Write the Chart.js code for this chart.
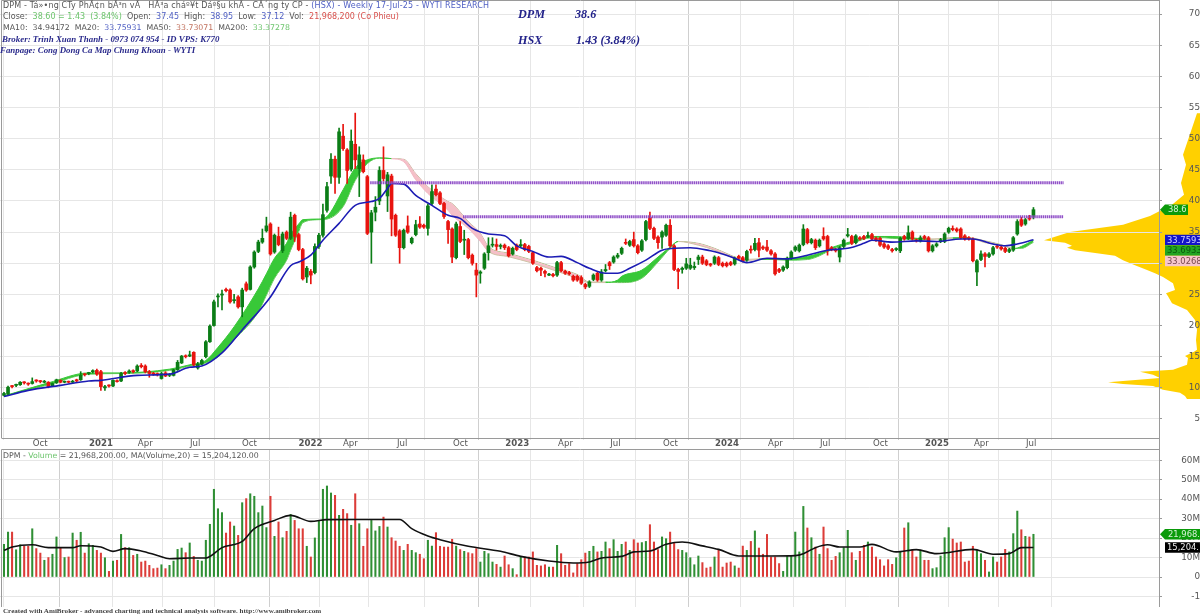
<!DOCTYPE html>
<html>
<head>
<meta charset="utf-8">
<title>DPM Weekly</title>
<script src="https://cdn.jsdelivr.net/npm/chart.js@4"></script>
<style>
    html, body { margin: 0; padding: 0; background: #fff; overflow: hidden; }
    #page { position: relative; width: 1200px; height: 616px; overflow: hidden; }
    canvas { position: absolute; }
    #profileChart { left: 1040px; top: 0; z-index: 0; }
    #priceChart { left: 0; top: 0; z-index: 1; }
    #volumeChart { left: 0; top: 449px; z-index: 1; }
    .txt { position: absolute; z-index: 2; white-space: pre; font: 8px/11px "DejaVu Sans", sans-serif; color: #555; }
    .note { font: italic bold 8.9px/11px "Liberation Serif", serif; color: #2a2a8c; }
    .big { font: italic bold 12.2px/14px "Liberation Serif", serif; color: #23238a; }
    .blue { color: #5060c4; }
    .green { color: #6cc46c; }
    .red { color: #d8504c; }
    .brown { color: #c0705c; }
</style>
</head>
<body>
<div id="page">
    <canvas id="profileChart" width="160" height="438"></canvas>
    <canvas id="priceChart" width="1200" height="449"></canvas>
    <canvas id="volumeChart" width="1200" height="158"></canvas>

    <div class="txt" style="left:3px;top:0px;letter-spacing:0.15px">DPM - Tá»•ng CTy PhÃ¢n bÃ³n vÃ   HÃ³a cháº¥t Dáº§u khÃ­ - CÃ´ng ty CP - <span class="blue">(HSX) - Weekly 17-Jul-25 - WYTI RESEARCH</span></div>
    <div class="txt" style="left:3px;top:11px">Close:  <span class="green">38.60 = 1.43  (3.84%)</span>  Open:  <span class="blue">37.45</span>  High:  <span class="blue">38.95</span>  Low:  <span class="blue">37.12</span>  Vol:  <span class="red">21,968,200 (Co Phieu)</span></div>
    <div class="txt" style="left:3px;top:22px;font-size:7.8px">MA10:  34.94172  MA20:  <span class="blue">33.75931</span>  MA50:  <span class="brown">33.73071</span>  MA200:  <span class="green">33.37278</span></div>
    <div class="txt note" style="left:2px;top:34px">Broker: Trinh Xuan Thanh - 0973 074 954 - ID VPS: K770</div>
    <div class="txt note" style="left:0px;top:45px">Fanpage: Cong Dong Ca Map Chung Khoan - WYTI</div>
    <div class="txt big" style="left:518px;top:7px">DPM</div>
    <div class="txt big" style="left:575px;top:7px">38.6</div>
    <div class="txt big" style="left:518px;top:33px">HSX</div>
    <div class="txt big" style="left:576px;top:33px">1.43 (3.84%)</div>
    <div class="txt" style="left:3px;top:450px;font-size:7.8px">DPM - <span class="green">Volume</span> = 21,968,200.00, MA(Volume,20) = 15,204,120.00</div>
    <div class="txt" style="left:3px;top:607px;font:bold 7.1px/9px 'Liberation Serif',serif;color:#444">Created with AmiBroker - advanced charting and technical analysis software. http://www.amibroker.com</div>
</div>

<script>
// weekly candles
const opens = [
    8.8, 9.0, 10.3, 10.4, 10.5, 10.9, 10.7, 10.7, 11.2, 11.1,
    10.9, 10.9, 10.3, 10.8, 11.2, 10.9, 11.0, 10.9, 11.3, 11.3,
    12.2, 12.3, 12.6, 12.8, 12.6, 10.0, 10.4, 10.3, 11.1, 11.1,
    12.4, 12.5, 12.7, 12.7, 13.6, 13.5, 12.6, 12.3, 12.3, 11.5,
    12.4, 12.0, 12.0, 12.9, 14.0, 15.1, 15.1, 15.7, 13.2, 13.8,
    15.0, 17.4, 20.0, 24.6, 24.9, 25.8, 25.7, 24.0, 24.6, 23.0,
    26.7, 25.8, 29.4, 31.9, 33.4, 35.2, 36.3, 31.8, 34.3, 32.0,
    35.0, 34.0, 37.7, 34.6, 32.2, 27.8, 28.7, 28.5, 32.7, 34.5,
    38.5, 44.0, 46.7, 43.8, 50.4, 48.2, 45.1, 49.1, 45.2, 46.6,
    43.9, 35.0, 38.2, 40.0, 44.9, 40.8, 44.0, 37.7, 35.2, 32.5,
    36.0, 33.3, 34.6, 36.3, 36.1, 35.6, 39.6, 41.9, 41.3, 39.6,
    36.7, 35.5, 30.9, 35.9, 33.7, 33.8, 31.3, 28.9, 28.4, 29.2,
    31.7, 32.9, 33.0, 32.7, 32.9, 32.5, 31.5, 32.9, 32.8, 33.0,
    32.7, 31.7, 29.3, 29.2, 28.7, 28.1, 28.2, 28.1, 30.1, 28.7,
    28.5, 27.9, 27.9, 27.7, 26.6, 26.3, 27.4, 28.4, 27.3, 28.8,
    30.1, 30.2, 31.0, 31.6, 33.3, 32.9, 33.8, 32.8, 32.1, 33.8,
    37.4, 35.6, 34.2, 34.2, 34.5, 36.1, 32.8, 29.0, 29.0, 29.2,
    29.2, 29.3, 30.6, 31.0, 30.4, 29.9, 30.0, 30.9, 30.0, 30.0,
    30.1, 29.9, 31.1, 30.9, 30.5, 32.2, 32.2, 33.3, 32.6, 32.6,
    32.0, 31.5, 29.0, 28.9, 29.3, 30.8, 32.1, 32.0, 33.0, 35.4,
    33.3, 33.7, 32.8, 34.3, 34.3, 32.5, 32.2, 31.0, 32.7, 34.4,
    34.3, 33.3, 34.1, 34.3, 34.3, 34.6, 34.0, 34.0, 33.1, 32.8,
    32.2, 32.2, 32.0, 34.3, 34.0, 35.0, 33.7, 33.6, 34.3, 34.1,
    32.0, 32.8, 33.5, 33.5, 35.0, 35.6, 35.5, 35.5, 34.4, 34.1,
    33.9, 28.6, 30.6, 31.5, 31.1, 31.5, 32.7, 32.6, 32.4, 31.9,
    32.1, 34.7, 37.0, 36.3, 37.5, 37.45,
];
const closes = [
    9.1, 10.1, 10.2, 10.5, 10.9, 10.8, 10.6, 11.0, 11.1, 11.0,
    11.0, 10.2, 10.7, 11.3, 10.9, 11.0, 10.9, 11.0, 11.1, 12.0,
    12.1, 12.4, 12.7, 12.2, 10.2, 10.2, 10.3, 11.2, 11.0, 12.3,
    12.3, 12.7, 12.6, 13.5, 13.4, 12.6, 12.3, 12.2, 12.1, 12.3,
    11.9, 12.1, 12.9, 14.1, 15.1, 15.0, 15.3, 13.7, 13.8, 14.4,
    17.4, 19.9, 23.8, 24.7, 25.0, 25.6, 23.8, 24.1, 23.0, 25.7,
    25.7, 29.4, 31.8, 33.4, 34.0, 36.0, 31.5, 34.5, 33.0, 34.7,
    34.0, 37.4, 34.3, 32.2, 27.5, 29.2, 28.1, 32.7, 34.5, 37.8,
    42.3, 46.7, 43.8, 51.1, 48.4, 44.9, 49.6, 46.6, 47.4, 44.7,
    34.8, 38.1, 39.0, 44.9, 43.6, 44.2, 37.1, 34.5, 32.5, 35.3,
    35.0, 34.0, 36.2, 35.8, 35.8, 39.2, 41.5, 41.0, 39.6, 37.5,
    35.4, 31.0, 36.3, 33.5, 33.8, 30.9, 30.0, 28.1, 28.6, 31.5,
    32.8, 33.0, 32.7, 32.8, 32.5, 31.2, 32.4, 32.2, 33.0, 32.2,
    31.9, 30.0, 28.8, 28.9, 28.4, 28.2, 28.0, 30.1, 28.8, 28.4,
    28.3, 27.3, 27.3, 26.8, 26.2, 27.0, 28.1, 27.3, 28.6, 29.0,
    29.6, 31.0, 31.3, 32.4, 33.2, 33.5, 32.8, 31.7, 33.6, 36.7,
    35.6, 34.0, 33.3, 35.0, 36.1, 32.8, 29.0, 28.7, 29.2, 29.9,
    29.7, 29.5, 31.0, 30.0, 29.8, 29.7, 31.0, 29.8, 29.6, 29.6,
    29.8, 30.8, 30.8, 30.4, 31.9, 32.1, 33.2, 32.1, 32.4, 32.1,
    31.5, 28.3, 28.7, 29.4, 30.8, 31.8, 32.6, 32.9, 35.5, 33.3,
    33.8, 32.5, 33.7, 33.9, 32.2, 32.2, 32.0, 32.5, 33.7, 34.6,
    33.2, 34.4, 33.9, 34.0, 34.4, 33.9, 33.7, 32.9, 32.6, 32.4,
    32.0, 32.3, 34.0, 33.9, 34.9, 33.9, 33.6, 34.1, 34.0, 32.0,
    32.8, 33.1, 33.8, 34.7, 35.6, 35.4, 35.2, 34.1, 33.9, 33.9,
    30.4, 30.4, 31.5, 31.1, 31.5, 32.5, 32.6, 32.3, 31.9, 32.2,
    34.1, 36.7, 36.1, 37.0, 37.1, 38.6,
];
const highs = [
    9.3, 10.3, 10.4, 10.6, 11.0, 11.0, 10.8, 11.6, 11.3, 11.2,
    11.2, 11.0, 10.8, 11.4, 11.3, 11.1, 11.1, 11.2, 11.4, 12.6,
    12.3, 12.5, 12.9, 13.0, 12.8, 10.4, 10.5, 11.3, 11.3, 12.5,
    12.6, 12.9, 12.9, 13.7, 13.9, 13.7, 12.8, 12.5, 12.4, 12.5,
    12.6, 12.3, 13.0, 14.4, 15.2, 15.3, 15.9, 15.8, 14.1, 14.6,
    17.6, 20.1, 24.1, 25.1, 25.7, 26.0, 25.9, 25.0, 24.8, 26.0,
    27.0, 29.6, 32.0, 33.7, 35.5, 37.4, 36.5, 34.7, 35.8, 35.0,
    35.2, 38.2, 37.9, 34.8, 32.4, 29.5, 29.0, 33.1, 34.8, 39.5,
    43.0, 47.6, 47.2, 51.7, 52.3, 48.4, 51.4, 54.1, 48.7, 47.4,
    44.1, 38.5, 40.7, 45.5, 48.7, 44.6, 44.3, 37.9, 35.4, 35.5,
    37.6, 34.2, 36.9, 37.5, 36.3, 39.5, 42.6, 42.6, 41.5, 39.8,
    36.9, 35.7, 36.6, 36.7, 35.3, 34.0, 31.5, 30.0, 28.8, 31.7,
    34.1, 34.1, 33.9, 33.1, 33.1, 32.7, 32.6, 33.1, 33.8, 33.2,
    32.9, 31.9, 29.5, 29.4, 28.9, 28.4, 28.4, 30.3, 30.3, 28.9,
    28.7, 28.1, 28.1, 28.0, 26.8, 27.2, 28.3, 28.6, 29.0, 29.8,
    30.3, 31.2, 31.6, 32.6, 33.9, 33.7, 35.0, 33.0, 33.8, 36.9,
    38.2, 35.8, 34.4, 35.2, 36.3, 37.0, 33.0, 29.2, 29.4, 30.8,
    30.8, 30.2, 31.3, 31.3, 30.6, 30.0, 31.2, 31.1, 30.2, 30.2,
    30.3, 31.0, 31.3, 31.1, 32.1, 32.8, 34.0, 34.0, 32.8, 33.7,
    32.2, 31.7, 29.2, 29.6, 31.0, 32.0, 32.8, 33.1, 36.2, 35.6,
    34.0, 33.9, 33.9, 35.7, 34.5, 32.7, 32.4, 32.7, 33.9, 35.6,
    34.5, 34.6, 34.3, 34.5, 35.0, 34.8, 34.2, 34.2, 33.3, 33.0,
    32.4, 32.5, 34.2, 34.5, 36.0, 35.2, 33.9, 34.4, 34.5, 34.3,
    33.0, 33.3, 34.0, 34.9, 35.8, 36.0, 35.7, 35.7, 34.6, 34.3,
    34.1, 30.6, 32.0, 31.7, 31.7, 32.7, 32.9, 32.8, 32.6, 32.4,
    34.3, 37.0, 37.4, 37.2, 37.7, 38.95,
];
const lows = [
    8.7, 8.9, 10.0, 10.2, 10.4, 10.6, 10.4, 10.6, 10.9, 10.8,
    10.8, 10.0, 10.2, 10.7, 10.8, 10.8, 10.8, 10.8, 11.0, 11.2,
    11.9, 12.1, 12.4, 12.0, 9.6, 9.6, 10.1, 10.2, 10.9, 11.0,
    12.1, 12.3, 12.4, 12.6, 13.2, 12.4, 11.7, 12.0, 11.9, 11.4,
    11.8, 11.8, 11.9, 12.8, 13.9, 14.8, 15.0, 13.5, 13.0, 13.7,
    14.8, 17.3, 19.9, 23.0, 22.5, 25.4, 23.6, 23.6, 22.8, 21.4,
    25.5, 25.7, 29.2, 31.7, 33.2, 35.0, 31.3, 31.6, 32.8, 31.7,
    33.8, 33.8, 33.5, 32.0, 27.3, 26.9, 26.7, 28.3, 32.4, 34.2,
    38.2, 42.8, 41.2, 42.8, 48.1, 42.8, 44.8, 45.2, 40.7, 44.5,
    34.6, 30.0, 36.8, 39.4, 43.2, 38.3, 34.4, 34.3, 30.0, 32.3,
    34.8, 33.1, 34.4, 35.6, 35.6, 34.5, 39.4, 40.8, 39.4, 37.2,
    33.2, 30.1, 30.7, 33.3, 31.4, 30.7, 29.7, 24.6, 26.8, 29.0,
    30.5, 32.6, 32.1, 32.3, 32.2, 31.0, 31.3, 32.0, 32.6, 32.0,
    31.7, 29.8, 28.6, 28.0, 27.8, 28.0, 27.8, 27.9, 28.6, 28.2,
    28.1, 27.1, 27.1, 26.6, 25.9, 26.1, 27.2, 27.1, 27.1, 28.6,
    29.0, 30.0, 30.8, 31.4, 33.0, 32.7, 32.6, 31.5, 31.9, 33.6,
    35.4, 33.8, 32.4, 32.4, 34.3, 32.6, 28.8, 25.9, 28.4, 29.0,
    29.0, 29.0, 29.8, 29.8, 29.6, 29.5, 29.8, 29.6, 29.4, 29.4,
    29.6, 29.7, 30.6, 30.2, 30.3, 31.6, 32.0, 31.0, 32.2, 31.9,
    31.3, 28.1, 28.5, 28.7, 29.1, 30.6, 31.9, 31.8, 32.8, 33.1,
    33.1, 32.2, 32.6, 33.7, 31.3, 32.0, 31.8, 30.2, 32.5, 34.2,
    33.0, 33.1, 33.7, 33.8, 34.1, 33.7, 33.5, 32.7, 32.4, 32.2,
    31.8, 32.0, 31.7, 33.7, 33.8, 33.7, 33.4, 33.4, 33.8, 31.8,
    31.8, 32.6, 33.3, 33.3, 34.8, 35.2, 35.0, 33.9, 33.7, 33.7,
    30.2, 26.4, 30.4, 29.4, 30.9, 31.3, 32.4, 32.1, 31.7, 31.7,
    31.9, 34.5, 35.9, 36.1, 36.9, 37.12,
];
// millions of shares
const volumes = [
    16.8, 23.1, 23.1, 14.0, 16.6, 15.8, 15.8, 24.8, 14.6, 12.3,
    8.6, 10.0, 11.7, 20.6, 15.0, 10.0, 10.3, 22.6, 18.9, 23.0,
    12.3, 17.1, 16.3, 13.7, 12.3, 9.9, 2.9, 8.2, 8.6, 21.9,
    15.1, 15.1, 11.1, 11.7, 7.7, 8.2, 6.0, 4.3, 4.6, 6.3,
    4.3, 6.0, 8.2, 14.2, 14.9, 12.5, 17.5, 10.6, 8.6, 8.2,
    18.9, 27.1, 45.1, 35.1, 33.1, 22.6, 28.3, 26.2, 21.4, 38.2,
    40.3, 42.8, 41.5, 33.1, 36.5, 25.4, 41.5, 20.9, 28.3, 20.2,
    23.5, 32.2, 29.1, 24.8, 24.8, 15.8, 10.3, 20.1, 28.6, 45.1,
    46.8, 43.2, 42.0, 31.7, 34.8, 32.6, 26.6, 42.8, 27.4, 15.8,
    24.8, 29.1, 23.7, 26.0, 30.8, 25.7, 20.2, 18.5, 15.8, 13.7,
    16.8, 13.7, 12.5, 11.7, 9.4, 18.9, 15.9, 22.8, 15.8, 15.4,
    15.4, 19.4, 15.9, 14.1, 13.2, 12.5, 12.0, 14.6, 7.7, 13.2,
    12.0, 7.7, 6.5, 5.1, 10.8, 6.3, 4.3, 1.2, 10.3, 10.3,
    10.3, 12.9, 6.0, 5.7, 6.3, 5.1, 5.1, 16.3, 12.0, 6.0,
    6.9, 2.1, 6.9, 8.9, 12.3, 13.2, 15.8, 12.9, 13.2, 18.0,
    14.6, 19.2, 13.2, 16.8, 18.0, 13.7, 19.2, 17.5, 17.7, 18.3,
    26.9, 18.0, 14.1, 20.6, 19.7, 23.1, 17.5, 14.1, 13.7, 12.5,
    9.9, 6.3, 10.8, 7.4, 4.6, 5.1, 10.3, 14.1, 5.1, 7.2,
    7.7, 5.7, 4.6, 15.9, 13.7, 18.3, 23.7, 14.9, 11.7, 21.9,
    10.3, 10.3, 6.9, 2.9, 10.8, 10.8, 23.1, 12.9, 36.3, 25.2,
    20.2, 15.4, 11.7, 25.7, 14.6, 8.6, 10.6, 12.5, 15.1, 24.0,
    12.5, 8.6, 13.2, 16.3, 18.0, 15.4, 10.3, 8.9, 5.7, 8.9,
    6.5, 9.9, 12.9, 25.2, 27.9, 13.7, 10.3, 13.7, 8.6, 8.6,
    4.3, 4.8, 10.8, 20.2, 25.4, 19.5, 17.5, 18.0, 7.7, 8.2,
    15.8, 13.7, 12.0, 8.6, 2.6, 10.3, 7.7, 10.3, 14.2, 12.9,
    22.3, 33.9, 24.3, 20.9, 20.6, 21.97,
];

// MA lines, read at the weeks where they bend
const blueWeeks = [0, 6, 14, 21, 24, 33, 41, 46, 49, 54, 59, 66, 71, 73, 76, 79, 83, 87, 91, 93, 95, 96, 99, 102, 106, 110, 113, 116, 120, 124, 127, 131, 135, 138, 142, 145, 149, 152, 155, 159, 163, 166, 170, 175, 177, 181, 184, 189, 194, 199, 204, 209, 213, 215, 220, 226, 231, 237, 240, 245, 248, 251, 255];
const blueLine = [8.6, 9.6, 10.4, 11.1, 11.2, 12.0, 12.2, 13.3, 13.5, 15.6, 19.3, 24.6, 29.6, 30.2, 31.3, 33.7, 36.4, 39.3, 39.9, 40.4, 42.0, 42.8, 42.7, 40.9, 39.3, 37.7, 37.2, 35.6, 34.7, 34.4, 32.8, 31.9, 31.0, 31.1, 30.1, 29.2, 28.4, 28.4, 29.2, 30.5, 32.1, 32.4, 32.5, 32.0, 31.7, 30.8, 30.1, 30.8, 30.7, 31.3, 32.1, 32.4, 33.2, 33.7, 33.4, 33.6, 33.5, 33.9, 33.9, 33.1, 32.8, 33.1, 33.76];

const ribbonWeeks = [0, 11, 21, 29, 41, 46, 50, 53, 57, 63, 65, 67, 70, 71, 73, 74, 78, 80, 84, 87, 90, 93, 96, 99, 102, 105, 110, 111, 115, 118, 120, 125, 131, 137, 142, 145, 149, 152, 153, 158, 162, 165, 167, 172, 176, 180, 183, 187, 194, 199, 202, 205, 210, 215, 218, 220, 229, 235, 239, 243, 247, 250, 252, 255];
const ribbonFast = [8.7, 10.8, 12.4, 12.4, 13.0, 13.7, 14.4, 16.5, 19.8, 25.9, 28.3, 30.8, 33.2, 34.6, 36.3, 37.0, 37.1, 37.5, 41.8, 45.3, 46.6, 46.9, 46.8, 46.3, 43.4, 41.2, 38.5, 37.7, 35.6, 33.5, 31.9, 31.05, 30.0, 28.7, 27.6, 26.9, 26.9, 27.3, 27.9, 28.9, 31.0, 32.6, 33.5, 32.9, 32.1, 31.0, 30.4, 30.6, 30.8, 31.1, 31.6, 32.5, 33.5, 34.3, 34.3, 34.3, 33.9, 34.0, 34.1, 33.3, 32.9, 32.3, 32.7, 33.69];
const ribbonSlow = [8.7, 10.5, 12.2, 12.3, 12.8, 13.5, 14.0, 15.0, 17.7, 22.2, 24.9, 27.6, 30.5, 32.1, 35.1, 36.5, 37.0, 37.1, 39.1, 43.3, 46.0, 46.9, 46.8, 46.7, 44.4, 42.3, 39.9, 39.6, 36.7, 34.8, 32.7, 31.6, 30.5, 29.2, 28.2, 27.0, 27.0, 26.9, 26.9, 27.6, 30.2, 32.4, 33.5, 33.2, 32.4, 31.3, 30.6, 30.7, 30.5, 30.6, 31.2, 32.2, 33.2, 34.1, 34.1, 34.0, 33.8, 34.1, 34.1, 33.6, 33.0, 32.4, 32.4, 33.37];

const volMaWeeks = [0, 2, 7, 11, 17, 19, 24, 27, 30, 34, 38, 41, 46, 50, 54, 59, 62, 67, 71, 76, 80, 87, 94, 98, 101, 105, 108, 115, 123, 128, 135, 141, 145, 148, 153, 156, 160, 164, 168, 173, 177, 182, 190, 196, 198, 201, 204, 207, 212, 215, 221, 226, 231, 240, 245, 249, 252, 255];
const volMa = [13.7, 15.4, 16.6, 15.1, 15.1, 16.1, 15.4, 13.2, 14.6, 13.4, 11.1, 9.4, 9.8, 9.8, 15.1, 18.3, 24.9, 29.1, 31.7, 28.6, 29.5, 29.6, 29.6, 29.6, 24.9, 21.1, 19.2, 15.8, 13.2, 10.6, 8.2, 7.2, 7.7, 9.8, 10.6, 12.9, 13.4, 16.8, 18.0, 16.0, 14.2, 10.8, 10.8, 11.0, 12.0, 15.1, 16.6, 15.4, 15.4, 16.8, 12.9, 14.1, 12.0, 14.2, 11.7, 12.0, 15.1, 15.2];

// resistance levels
const levelPrices = [42.93, 37.46];
const levelStarts = [90.7, 113.7];
const levelEnd = 262.5;

// yellow volume-at-price profile
const profilePrices = [54.1, 54.1, 49.8, 47.4, 45.8, 42.9, 41, 39.4, 37.6, 36.2, 35, 33.7, 33.3, 32.8, 32.5, 32.1, 31.6, 31.2, 30.5, 29.7, 28.9, 28.4, 27.8, 26.8, 25.7, 25.2, 24.7, 23.6, 22.5, 20.9, 19.3, 17.7, 16.1, 15.8, 15.1, 14.8, 13.7, 12.9, 12.6, 12.1, 11.6, 11.1, 10.9, 10.6, 10.3, 9.7, 9.2, 8.7, 8.2, 8.2];
const profileVolume = [0, 3, 12, 17, 14, 19, 16, 28, 50, 77, 130, 156, 135, 128, 133, 125, 103, 85, 77, 65, 53, 45, 37, 27, 25, 34, 32, 28, 13, 5, 3, 4, 3, 6, 15, 12, 13, 27, 60, 47, 40, 77, 92, 77, 47, 37, 20, 15, 13, 0];

const priceTicks = [5, 10, 15, 20, 25, 30, 35, 40, 45, 50, 55, 60, 65, 70];
const volumeTicks = [-10, 0, 10, 20, 30, 40, 50, 60];
const volumeTickLabels = ["-1", "0", "10M", "20M", "30M", "40M", "50M", "60M"];
const dateTicks = [6.86, 20.8, 32.9, 45.8, 58.7, 72.7, 83.7, 97.1, 111, 123.9, 137, 149.9, 163, 175.9, 189, 201.9, 215, 227.9, 240, 252.9];
const dateLabels = ["Oct", "2021", "Apr", "Jul", "Oct", "2022", "Apr", "Jul", "Oct", "2023", "Apr", "Jul", "Oct", "2024", "Apr", "Jul", "Oct", "2025", "Apr", "Jul"];

const priceTags = [
    { value: 38.6, text: "38.6", fill: "#0a9a0a", color: "#d8f0d8", arrow: true },
    { value: 33.7593, text: "33.7593", fill: "#1414c8", color: "#d0d0ff" },
    { value: 33.6933, text: "33.6933", fill: "#22a422", color: "#0c5a0c" },
    { value: 33.0268, text: "33.0268", fill: "#f6c6cc", color: "#7a4a50" },
];
const volumeTags = [
    { value: 21.9682, text: "21,968.2", fill: "#0a9a0a", color: "#d8f0d8", arrow: true },
    { value: 15.2041, text: "15,204.1", fill: "#000", color: "#eee" },
];

const upColor = "#0b7d16", downColor = "#e8140f";
const gridColor = "#e6e6e6", frameColor = "#9a9a9a", tickColor = "#555";
const uiFont = "DejaVu Sans";
const xMin = -0.99, xMax = 286.1;

const weeks = opens.map((_, i) => i);
const isUp = (i) => closes[i] >= opens[i];
const toPoints = (xs, ys) => xs.map((x, i) => ({ x: x, y: ys[i] }));

// green while the fast line leads, pink while it lags, tan once the pink band gets thin
const ribbonEdge = (c) => {
    const i = c.p1DataIndex;
    if (ribbonFast[i] >= ribbonSlow[i]) return "#38c838";
    return ribbonWeeks[i] < 125 ? "#f2b9c3" : "#cfc3a6";
};

// shared x axis of the price and volume panels
const buildDateAxis = (showLabels) => ({
    type: "linear",
    min: xMin,
    max: xMax,
    offset: false,
    afterBuildTicks: (axis) => { axis.ticks = dateTicks.map((v) => ({ value: v })); },
    afterFit: (axis) => { axis.height = showLabels ? 11 : 0; },
    grid: {
        color: (c) => (c.tick && dateLabels[dateTicks.indexOf(c.tick.value)].startsWith("20") ? "#cfcfcf" : gridColor),
        drawTicks: showLabels,
        tickLength: 2,
    },
    border: { display: false },
    ticks: {
        display: showLabels,
        autoSkip: false,
        maxRotation: 0,
        align: "start",
        labelOffset: 1,
        padding: -1,
        color: tickColor,
        font: (c) => ({
            family: uiFont,
            size: 8.6,
            weight: c.tick && dateLabels[dateTicks.indexOf(c.tick.value)].startsWith("20") ? "bold" : "normal",
        }),
        callback: (v) => dateLabels[dateTicks.indexOf(v)],
    },
});

const buildValueAxis = (min, max, ticks, labels, padding) => ({
    position: "right",
    min: min,
    max: max,
    afterBuildTicks: (axis) => { axis.ticks = ticks.map((v) => ({ value: v })); },
    // the big label padding must not push the plot area down
    afterFit: (axis) => { axis.width = 41; axis.paddingTop = 0; axis.paddingBottom = 0; },
    grid: { color: gridColor, tickLength: 3, tickColor: frameColor },
    border: { display: false },
    ticks: {
        autoSkip: false,
        crossAlign: "far",
        padding: padding,
        color: tickColor,
        font: { family: uiFont, size: 8.8 },
        callback: (v) => labels[ticks.indexOf(v)],
    },
});

// frame of the panel and the coloured value tags right of it
const panelDecor = (tags, bottomExtra) => ({
    id: "panelDecor",
    afterDraw: (chart) => {
        const ctx = chart.ctx, area = chart.chartArea, yScale = chart.scales.y;
        ctx.save();
        ctx.strokeStyle = frameColor;
        ctx.lineWidth = 1;
        ctx.beginPath();
        ctx.moveTo(1.5, area.bottom);
        ctx.lineTo(1.5, area.top + 0.5);
        ctx.lineTo(area.right + 0.5, area.top + 0.5);
        ctx.moveTo(area.right + 0.5, area.top);
        ctx.lineTo(area.right + 0.5, area.bottom + bottomExtra);
        if (bottomExtra) {
            ctx.moveTo(1.5, area.bottom + 0.5);
            ctx.lineTo(area.right + 0.5, area.bottom + 0.5);
        }
        ctx.stroke();
        let lastY = -100;
        ctx.font = "8.4px " + uiFont;
        ctx.textBaseline = "middle";
        tags.forEach((tag) => {
            const y = Math.max(yScale.getPixelForValue(tag.value), lastY + 10.6);
            lastY = y;
            const left = area.right + (tag.arrow ? 1 : 6);
            const right = tag.text.length > 6 || !tag.arrow ? 1200 : area.right + 29;
            ctx.fillStyle = tag.fill;
            ctx.beginPath();
            if (tag.arrow) {
                ctx.moveTo(left, y);
                ctx.lineTo(left + 5, y - 5.2);
                ctx.lineTo(right, y - 5.2);
                ctx.lineTo(right, y + 5.2);
                ctx.lineTo(left + 5, y + 5.2);
            } else {
                ctx.rect(left, y - 5.2, right - left, 10.4);
            }
            ctx.closePath();
            ctx.fill();
            ctx.fillStyle = tag.color;
            ctx.textAlign = "left";
            ctx.fillText(tag.text, left + (tag.arrow ? 8 : 2), y + 0.5);
        });
        ctx.restore();
    },
});

const priceChart = new Chart(document.getElementById("priceChart"), {
    type: "bar",
    data: {
        datasets: [
            {
                type: "line",
                order: 6,
                data: toPoints(ribbonWeeks, ribbonFast),
                borderWidth: 1,
                borderColor: "#38c838",
                segment: { borderColor: ribbonEdge },
                cubicInterpolationMode: "monotone",
                pointRadius: 0,
                fill: { target: "+1", above: "#38c838", below: "#f5bfc8" },
            },
            {
                type: "line",
                order: 6,
                data: toPoints(ribbonWeeks, ribbonSlow),
                borderWidth: 1,
                borderColor: "#38c838",
                segment: { borderColor: ribbonEdge },
                cubicInterpolationMode: "monotone",
                pointRadius: 0,
            },
            {
                // wicks
                order: 4,
                data: weeks.map((i) => ({ x: i, y: [lows[i], highs[i]] })),
                backgroundColor: (c) => (isUp(c.dataIndex) ? upColor : downColor),
                barThickness: 1,
                grouped: false,
            },
            {
                // bodies
                order: 3,
                data: weeks.map((i) => ({ x: i, y: [opens[i], closes[i]] })),
                backgroundColor: (c) => (isUp(c.dataIndex) ? upColor : downColor),
                barThickness: 3,
                minBarLength: 1,
                grouped: false,
            },
            {
                type: "line",
                order: 2,
                data: toPoints(blueWeeks, blueLine),
                borderColor: "#1c1cb4",
                borderWidth: 1.6,
                cubicInterpolationMode: "monotone",
                pointRadius: 0,
            },
            {
                type: "line",
                order: 1,
                data: [{ x: levelStarts[0], y: levelPrices[0] }, { x: levelEnd, y: levelPrices[0] }],
                borderColor: "#9050c8",
                borderWidth: 3,
                borderDash: [1.5, 0.6],
                pointRadius: 0,
            },
            {
                type: "line",
                order: 1,
                data: [{ x: levelStarts[1], y: levelPrices[1] }, { x: levelEnd, y: levelPrices[1] }],
                borderColor: "#9050c8",
                borderWidth: 3,
                borderDash: [1.5, 0.6],
                pointRadius: 0,
            },
        ],
    },
    options: {
        responsive: false,
        animation: false,
        devicePixelRatio: 1,
        layout: { padding: 0 },
        plugins: { legend: { display: false }, tooltip: { enabled: false } },
        scales: {
            x: buildDateAxis(true),
            y: buildValueAxis(1.95, 72.26, priceTicks, priceTicks.map(String), 23),
        },
    },
    plugins: [panelDecor(priceTags, 11)],
});

const volumeChart = new Chart(document.getElementById("volumeChart"), {
    type: "bar",
    data: {
        datasets: [
            {
                type: "line",
                order: 1,
                data: toPoints(volMaWeeks, volMa),
                borderColor: "#111",
                borderWidth: 1.6,
                cubicInterpolationMode: "monotone",
                pointRadius: 0,
            },
            {
                order: 2,
                data: weeks.map((i) => ({ x: i, y: volumes[i] })),
                backgroundColor: (c) => (isUp(c.dataIndex) ? "#2f8f34" : "#dc3c38"),
                barThickness: 1.4,
                grouped: false,
            },
        ],
    },
    options: {
        responsive: false,
        animation: false,
        devicePixelRatio: 1,
        layout: { padding: 0 },
        plugins: { legend: { display: false }, tooltip: { enabled: false } },
        scales: {
            x: buildDateAxis(false),
            y: buildValueAxis(-15.42, 65.81, volumeTicks, volumeTickLabels, 15),
        },
    },
    plugins: [panelDecor(volumeTags, 0)],
});

const profileChart = new Chart(document.getElementById("profileChart"), {
    type: "scatter",
    data: {
        datasets: [
            {
                data: toPoints(profileVolume, profilePrices),
                showLine: true,
                borderWidth: 0,
                backgroundColor: "#ffd000",
                pointRadius: 0,
                fill: "shape",
            },
        ],
    },
    options: {
        responsive: false,
        animation: false,
        devicePixelRatio: 1,
        layout: { padding: 0 },
        plugins: { legend: { display: false }, tooltip: { enabled: false } },
        scales: {
            x: { type: "linear", display: false, reverse: true, min: 0, max: 160 },
            y: { display: false, min: 1.95, max: 72.26 },
        },
    },
});
</script>
</body>
</html>
